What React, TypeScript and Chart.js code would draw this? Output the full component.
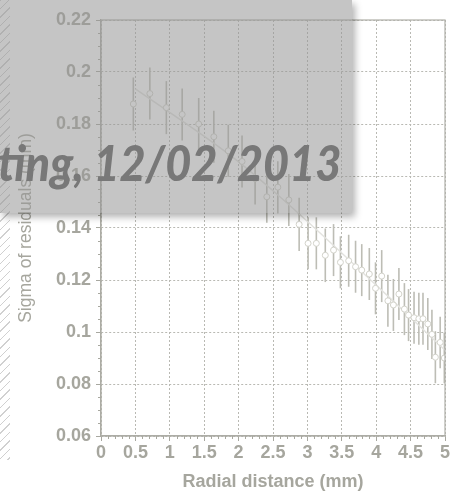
import React, { useEffect, useRef } from "react";
import { Chart, registerables } from "chart.js";
Chart.register(...registerables);

// Measured points (radial distance in mm, sigma of residuals in mm, error)
const radius = [0.47, 0.71, 0.95, 1.18, 1.42, 1.64, 1.85, 2.05, 2.24, 2.41, 2.57, 2.73, 2.88, 3.01, 3.13, 3.26, 3.38, 3.48, 3.6, 3.7, 3.79, 3.9, 3.99, 4.08, 4.17, 4.25, 4.33, 4.41, 4.47, 4.55, 4.62, 4.68, 4.75, 4.81, 4.86, 4.93, 4.99];
const sigma = [0.1877, 0.1917, 0.1863, 0.1837, 0.18, 0.1751, 0.1697, 0.1656, 0.159, 0.152, 0.1557, 0.1508, 0.1414, 0.1341, 0.1341, 0.1295, 0.1315, 0.1268, 0.1274, 0.1251, 0.1238, 0.1223, 0.1168, 0.1215, 0.112, 0.1104, 0.1146, 0.1088, 0.1065, 0.1055, 0.1051, 0.1051, 0.1031, 0.0991, 0.0903, 0.096, 0.09];
const sigmaErr = [0.0102, 0.01, 0.0102, 0.01, 0.01, 0.01, 0.01, 0.01, 0.01, 0.01, 0.01, 0.01, 0.0102, 0.01, 0.01, 0.0103, 0.01, 0.01, 0.01, 0.01, 0.01, 0.01, 0.01, 0.01, 0.01, 0.01, 0.01, 0.01, 0.01, 0.01, 0.01, 0.01, 0.01, 0.0095, 0.01, 0.0099, 0.0097];

// Fitted curve
const fitR = [0.5, 1.88, 2.6, 3.98, 5.0];
const fitS = [0.1935, 0.1679, 0.152, 0.1185, 0.093];

const xTicks = [0, 0.5, 1, 1.5, 2, 2.5, 3, 3.5, 4, 4.5, 5];
const yTicks = [0.06, 0.08, 0.1, 0.12, 0.14, 0.16, 0.18, 0.2, 0.22];

const xTitle = "Radial distance (mm)";
const yTitle = "Sigma of residuals (mm)";
const stampText = "ting, 12/02/2013";

const TXT = "#a6a69e";
const GRID = "#b9b9b3";
const FONT = "'Liberation Sans', Arial, sans-serif";

const errorBarPlugin = {
  id: "errorBars",
  beforeDatasetsDraw(chart: any) {
    const { ctx, scales } = chart;
    const x = scales.x, y = scales.y;
    ctx.save();
    ctx.strokeStyle = "#bdbdb5";
    ctx.lineWidth = 1.6;
    radius.forEach((r, i) => {
      const px = x.getPixelForValue(r);
      ctx.beginPath();
      ctx.moveTo(px, y.getPixelForValue(sigma[i] + sigmaErr[i]));
      ctx.lineTo(px, y.getPixelForValue(sigma[i] - sigmaErr[i]));
      ctx.stroke();
    });
    ctx.restore();
  },
};

const framePlugin = {
  id: "frame",
  afterDraw(chart: any) {
    const { ctx, chartArea, scales } = chart;
    const x = scales.x, y = scales.y;
    ctx.save();
    ctx.strokeStyle = "#b0b0a8";
    ctx.lineWidth = 1.2;
    ctx.strokeRect(chartArea.left, chartArea.top, chartArea.right - chartArea.left, chartArea.bottom - chartArea.top);
    ctx.strokeStyle = "#a8a8a0";
    ctx.lineWidth = 1;
    for (let i = 0; i <= 50; i++) {
      if (i % 5 === 0) continue;
      const px = Math.round(x.getPixelForValue(i / 10)) + 0.5;
      ctx.beginPath();
      ctx.moveTo(px, chartArea.bottom);
      ctx.lineTo(px, chartArea.bottom + 3);
      ctx.stroke();
    }
    for (let i = 12; i <= 44; i++) {
      if (i % 4 === 0) continue;
      const py = Math.round(y.getPixelForValue(i * 0.005)) + 0.5;
      ctx.beginPath();
      ctx.moveTo(chartArea.left - 3, py);
      ctx.lineTo(chartArea.left, py);
      ctx.stroke();
    }
    ctx.restore();
  },
};

function fmt(v: number) {
  return String(Math.round(v * 100) / 100);
}

export default function App() {
  const ref = useRef<HTMLCanvasElement>(null);
  useEffect(() => {
    const chart = new Chart(ref.current as HTMLCanvasElement, {
      type: "scatter",
      data: {
        datasets: [
          {
            type: "line",
            data: fitR.map((r, i) => ({ x: r, y: fitS[i] })),
            borderColor: "#e3e3df",
            borderWidth: 1.5,
            pointRadius: 0,
            fill: false,
            cubicInterpolationMode: "monotone",
            order: 2,
          } as any,
          {
            data: radius.map((r, i) => ({ x: r, y: sigma[i] })),
            pointRadius: 3,
            pointBackgroundColor: "#ffffff",
            pointBorderColor: "#d2d2ca",
            pointBorderWidth: 1,
            order: 1,
          },
        ],
      },
      options: {
        animation: false,
        responsive: false,
        layout: { padding: { top: 20, right: 8, left: 0, bottom: 0 } },
        plugins: { legend: { display: false }, tooltip: { enabled: false } },
        scales: {
          x: {
            type: "linear",
            min: 0,
            max: 5,
            afterBuildTicks: (s: any) => {
              s.ticks = xTicks.map((v) => ({ value: v }));
            },
            ticks: {
              color: TXT,
              font: { family: FONT, size: 18, weight: "bold" },
              padding: 1,
              maxRotation: 0,
              callback: (v: any) => fmt(Number(v)),
            },
            grid: { color: GRID, tickColor: "#a8a8a0", tickLength: 5, lineWidth: 1 },
            border: { color: "#a8a8a0", width: 1.2, dash: [2, 2] },
            title: {
              display: true,
              text: xTitle,
              color: TXT,
              font: { family: FONT, size: 18, weight: "bold" },
              padding: { top: 3, bottom: 3 },
            },
            afterFit: (s: any) => {
              s.height = 60;
            },
          },
          y: {
            type: "linear",
            min: 0.06,
            max: 0.22,
            afterBuildTicks: (s: any) => {
              s.ticks = yTicks.map((v) => ({ value: v }));
            },
            ticks: {
              color: TXT,
              font: { family: FONT, size: 18, weight: "bold" },
              padding: 5,
              callback: (v: any) => fmt(Number(v)),
            },
            grid: { color: GRID, tickColor: "#a8a8a0", tickLength: 5, lineWidth: 1 },
            border: { color: "#a8a8a0", width: 1.2, dash: [2, 2] },
            title: {
              display: true,
              text: yTitle,
              color: TXT,
              font: { family: FONT, size: 17.5, weight: "normal" },
              padding: { top: 16, bottom: 0 },
            },
            afterFit: (s: any) => {
              s.width = 101;
            },
          },
        },
      } as any,
      plugins: [errorBarPlugin, framePlugin],
    });
    return () => chart.destroy();
  }, []);

  return (
    <div style={{ position: "fixed", left: 0, top: 0, width: 453, height: 496, background: "#fff", overflow: "hidden" }}>
      <canvas ref={ref} width={453} height={496} style={{ position: "absolute", left: 0, top: 0 }} />
      <div
        style={{
          position: "absolute",
          left: 0,
          top: 0,
          width: 10,
          height: 460,
          background: "repeating-linear-gradient(135deg, rgba(170,170,170,0.55) 0px, rgba(170,170,170,0.55) 1px, transparent 1px, transparent 6px)",
        }}
      />
      <div
        style={{
          position: "absolute",
          left: 0,
          top: 0,
          width: 352,
          height: 213,
          background: "rgba(150,150,150,0.55)",
          boxShadow: "3px 4px 7px rgba(0,0,0,0.3)",
        }}
      />
      <div
        style={{
          position: "absolute",
          left: -2,
          top: 137,
          whiteSpace: "nowrap",
          fontFamily: "Lato, 'DejaVu Sans', sans-serif",
          fontStyle: "italic",
          fontWeight: 900,
          fontSize: 50,
          lineHeight: "50px",
          color: "#787878",
          transform: "scaleX(0.9)",
          transformOrigin: "0 0",
        }}
      >
        {stampText}
      </div>
    </div>
  );
}
